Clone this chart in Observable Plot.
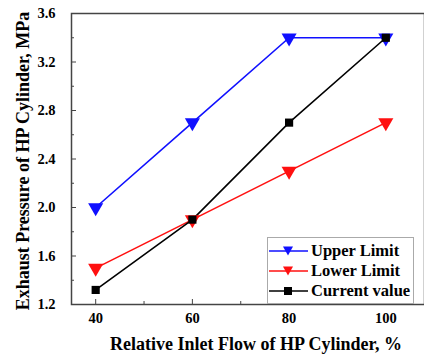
<!DOCTYPE html>
<html><head><meta charset="utf-8">
<script src="https://cdn.jsdelivr.net/npm/d3@7"></script>
<script src="https://cdn.jsdelivr.net/npm/@observablehq/plot@0.6"></script>
<style>
body{margin:0;background:#fff;overflow:hidden}
#wrap{position:relative;width:424px;height:355px}
#legend{position:absolute;left:267px;top:237px;width:147px;height:67px;border:1px solid #aaa;background:#fff;box-sizing:border-box;padding-top:3px}
.row{display:flex;align-items:center;height:20px;font:bold 16.5px "Times New Roman","Liberation Serif",serif;color:#000;white-space:nowrap}
.row svg{margin-right:3px;margin-left:0px}
</style></head>
<body><div id="wrap"><div id="legend"></div></div>
<script>
const flow = [40, 60, 80, 100];
const upperLimit = [2.0, 2.7, 3.4, 3.4];
const lowerLimit = [1.5, 1.9, 2.3, 2.7];
const currentValue = [1.32, 1.9, 2.7, 3.4];
const seriesNames = ["Upper Limit", "Lower Limit", "Current value"];
const seriesColors = ["#1010ff", "#ff1010", "#000000"];
const seriesSymbols = ["triangle", "triangle", "square"];
const xTicks = [40, 60, 80, 100];
const xMinor = [50, 70, 90];
const yTicks = [1.2, 1.6, 2.0, 2.4, 2.8, 3.2, 3.6];
const yMinor = [1.4, 1.8, 2.2, 2.6, 3.0, 3.4];

const values = [upperLimit, lowerLimit, currentValue];
const data = [];
values.forEach((arr, s) => arr.forEach((v, i) => data.push({series: seriesNames[s], x: flow[i], y: v})));

const font = '"Times New Roman", "Liberation Serif", serif';
const lineMarks = [];
seriesNames.forEach((name, s) => {
  const d = data.filter(r => r.series === name);
  lineMarks.push(Plot.line(d, {x: "x", y: "y", stroke: seriesColors[s], strokeWidth: 1.6}));
});
seriesNames.forEach((name, s) => {
  const d = data.filter(r => r.series === name);
  lineMarks.push(Plot.dot(d, {x: "x", y: "y", fill: seriesColors[s], stroke: "none",
    symbol: seriesSymbols[s], r: s === 2 ? 4.6 : 5.6, rotate: s === 2 ? 0 : 180}));
});

const chart = Plot.plot({
  width: 424, height: 355,
  marginLeft: 71, marginTop: 13, marginBottom: 51, marginRight: 0,
  style: {fontFamily: font, fontSize: "14px", fontWeight: "bold", color: "#000", background: "#fff"},
  x: {domain: [35, 108]},
  y: {domain: [1.2, 3.6]},
  marks: [
    Plot.frame({stroke: "#444", strokeWidth: 1.5}),
    Plot.axisX({ticks: xTicks, tickSize: -5, text: null, label: null, stroke: "#444"}),
    Plot.axisX({ticks: xMinor, tickSize: -3, text: null, label: null, stroke: "#444"}),
    Plot.axisX({ticks: xTicks, tickSize: 0, tickPadding: 8, tickFormat: d => d, label: null, fontSize: 14.5, fontFamily: font}),
    Plot.axisY({ticks: yTicks, tickSize: -5, text: null, label: null, stroke: "#444"}),
    Plot.axisY({ticks: yMinor, tickSize: -3, text: null, label: null, stroke: "#444"}),
    Plot.axisY({ticks: yTicks, tickSize: 0, tickPadding: 16, tickFormat: d3.format(".1f"), label: null, fontSize: 14.5, fontFamily: font}),
    Plot.text(["Exhaust Pressure of HP Cylinder, MPa"], {frameAnchor: "left", dx: -48, dy: 2, rotate: -90, textAnchor: "middle", lineAnchor: "middle", fontSize: 18, fontWeight: "bold", fill: "#000", fontFamily: font}),
    Plot.text(["Relative Inlet Flow of HP Cylinder, %"], {frameAnchor: "bottom", dx: 8, dy: 40, textAnchor: "middle", lineAnchor: "middle", fontSize: 18, fontWeight: "bold", fill: "#000", fontFamily: font}),
    ...lineMarks
  ]
});
document.getElementById("wrap").prepend(chart);

const legend = document.getElementById("legend");
seriesNames.forEach((name, s) => {
  const row = document.createElement("div");
  row.className = "row";
  const c = seriesColors[s];
  const sym = s === 2
    ? `<rect x="16" y="5" width="8" height="8" fill="${c}"/>`
    : `<path d="M15,4.5 L25,4.5 L20,13.5 Z" fill="${c}"/>`;
  row.innerHTML = `<svg width="40" height="18"><line x1="1" y1="9" x2="40" y2="9" stroke="${c}" stroke-width="1.6"/>${sym}</svg><span>${name}</span>`;
  legend.appendChild(row);
});
</script></body></html>
